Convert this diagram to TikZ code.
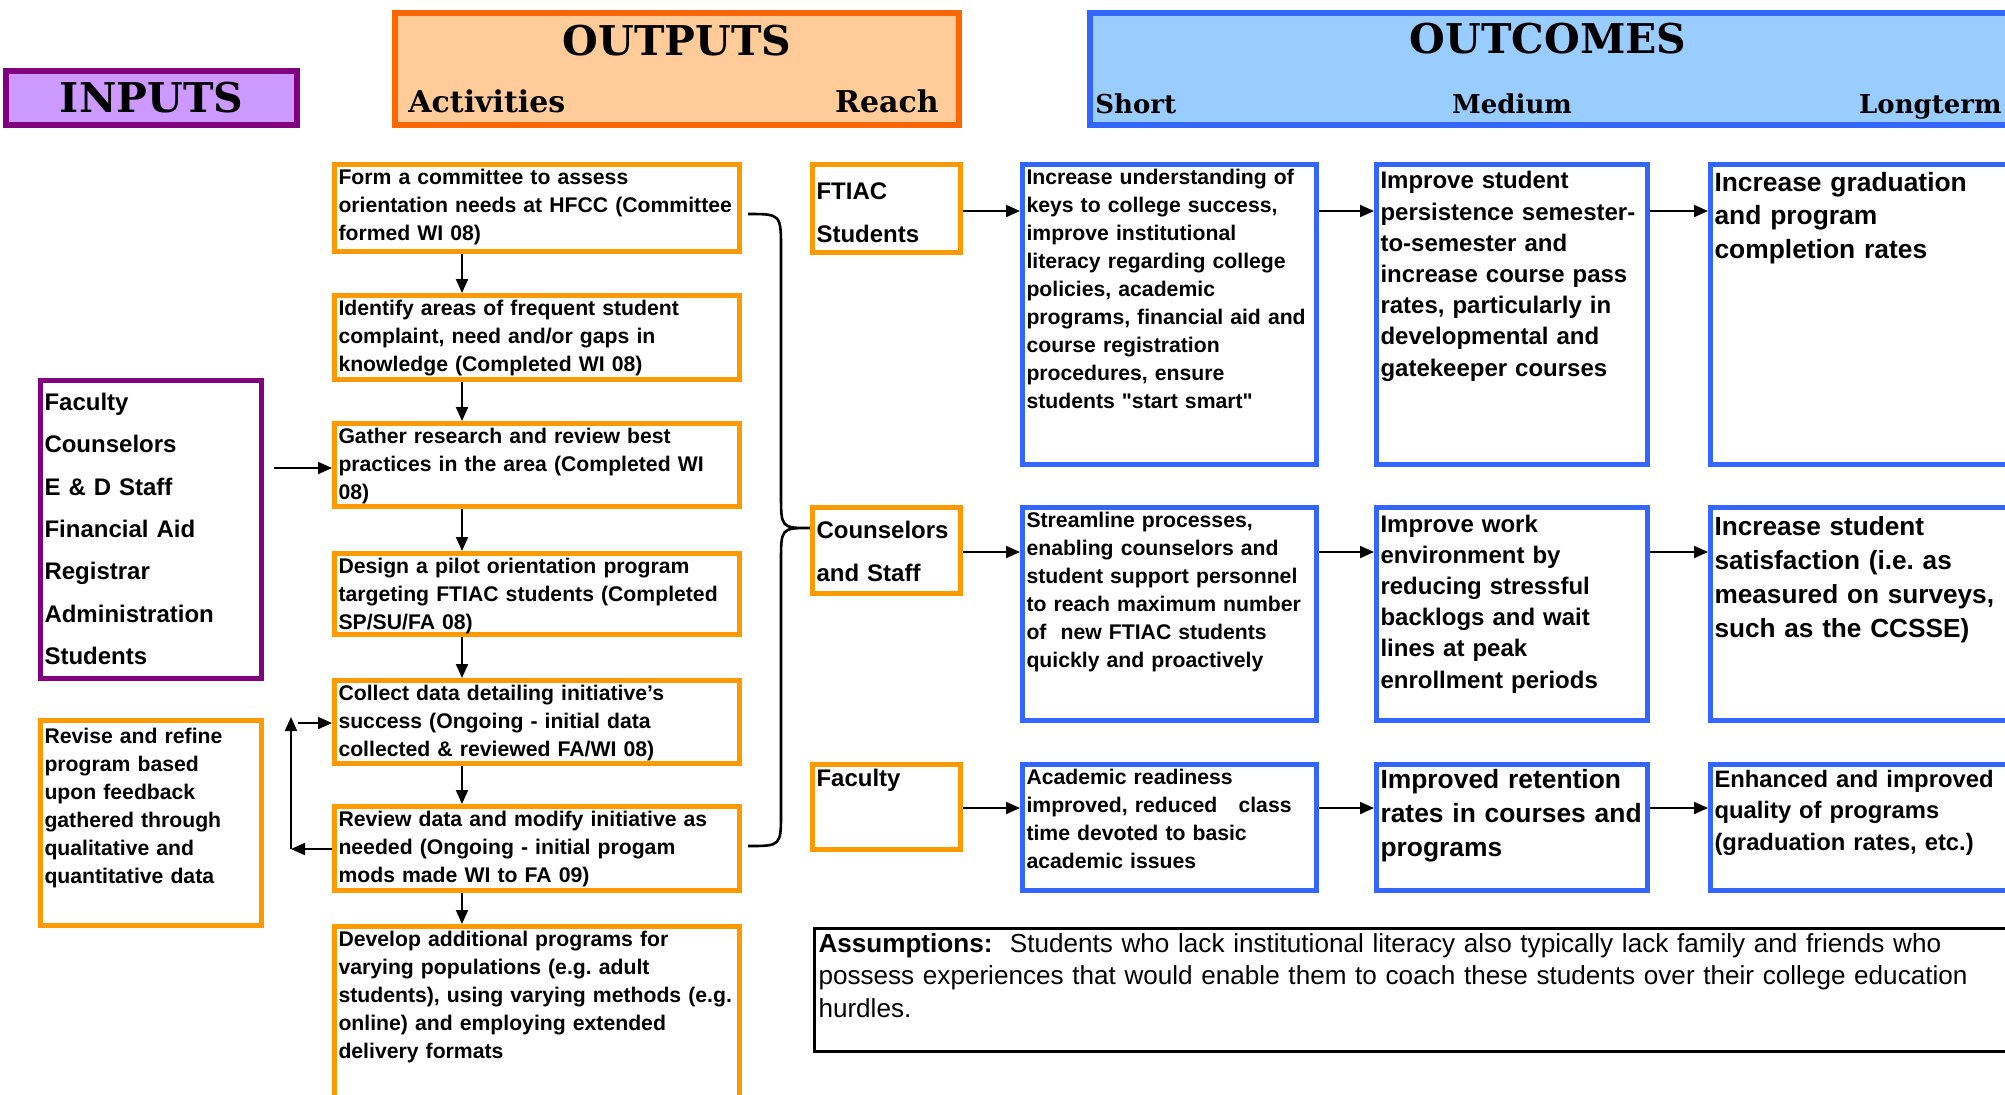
\documentclass[tikz,border=0pt]{standalone}
\usepackage{fontspec}
\setmainfont{Liberation Sans}[Ligatures=TeXOff]
\newfontfamily\headfont{DejaVu Serif}
\usetikzlibrary{arrows.meta}

\definecolor{inpurple}{RGB}{128,0,128}
\definecolor{inlilac}{RGB}{204,153,255}
\definecolor{outorange}{RGB}{255,102,0}
\definecolor{outpeach}{RGB}{255,204,153}
\definecolor{boxorange}{RGB}{255,153,0}
\definecolor{boxblue}{RGB}{51,102,255}
\definecolor{skyblue}{RGB}{153,204,255}

\newcommand{\boxtext}[3][0pt]{\parbox[t][#2][t]{\linewidth}{\hsize=\dimexpr\linewidth+20pt\relax\raggedright\frenchspacing\vspace*{#1}#3}}

\begin{document}
\begin{tikzpicture}[x=0.5pt, y=-0.5pt,
    arr/.style={-{Triangle[length=7pt,width=6pt]}, line width=1pt},
    hdr/.style={line width=3pt, anchor=north west, inner sep=0pt},
    headtitle/.style={anchor=base, inner sep=0pt, font=\headfont\bfseries\fontsize{20.5}{24}\selectfont},
    headsub/.style={inner sep=0pt, font=\headfont\bfseries\fontsize{15}{18}\selectfont},
    headterm/.style={inner sep=0pt, font=\headfont\bfseries\fontsize{13}{16}\selectfont},
    txtbox/.style={line width=2.5pt, anchor=north west, align=left, inner xsep=2pt, inner ysep=2.5pt},
    actbox/.style={txtbox, draw=boxorange, text width=198.5pt, font=\bfseries\fontsize{10.6}{14}\selectfont},
    sidebox/.style={txtbox, draw=boxorange, text width=106.5pt, font=\bfseries\fontsize{10.6}{14}\selectfont},
    listbox/.style={txtbox, draw=inpurple, text width=106.5pt, font=\bfseries\fontsize{12}{21.2}\selectfont},
    reachbox/.style={txtbox, draw=boxorange, text width=70pt, font=\bfseries\fontsize{12}{21.5}\selectfont},
    shortbox/.style={txtbox, draw=boxblue, text width=143pt, font=\bfseries\fontsize{10.6}{14}\selectfont},
    medbox/.style={txtbox, draw=boxblue, text width=131.5pt, font=\bfseries\fontsize{12}{15.6}\selectfont},
    longbox/.style={txtbox, draw=boxblue, text width=159.5pt, font=\bfseries\fontsize{13.2}{16.8}\selectfont},
    assumbox/.style={txtbox, line width=1.5pt, draw=black, text width=608pt, font=\fontsize{13.05}{16.2}\selectfont},
    brace/.style={line width=1.3pt}]

  \useasboundingbox (0,0) rectangle (2005,1094);
  \clip (0,0) rectangle (2005,1094);

  \node[hdr, draw=inpurple, fill=inlilac, minimum width=145.5pt, minimum height=27pt,
        font=\headfont\bfseries\fontsize{20.5}{24}\selectfont] (inputs) at (3,68) {INPUTS};
  \node[hdr, draw=outorange, fill=outpeach, minimum width=282pt, minimum height=56pt] (outputs) at (392,10) {};
  \node[hdr, draw=boxblue, fill=skyblue, minimum width=475pt, minimum height=56pt] (outcomes) at (1087,10) {};

  \node[headtitle] (outtitle) at (677,55) {OUTPUTS};
  \node[headsub, anchor=base west] (activities) at (408,112) {Activities};
  \node[headsub, anchor=base east] (reach) at (939,112) {Reach};
  \node[headtitle] (octitle) at (1548,53) {OUTCOMES};
  \node[headterm, anchor=base west] (short) at (1095,113) {Short};
  \node[headterm, anchor=base] (medium) at (1512,113) {Medium};
  \node[headterm, anchor=base east] (longterm) at (2002,113) {Longterm};

  \node[listbox] (resources) at (38,378) {\boxtext[3.65pt]{144pt}{Faculty\\Counselors\\E \& D Staff\\Financial Aid\\Registrar\\Administration\\Students}};
  \node[sidebox] (revise) at (38,718) {\boxtext[1.15pt]{97.5pt}{Revise and refine\\program based\\upon feedback\\gathered through\\qualitative and\\quantitative data}};

  \node[actbox] (a1) at (332,162) {\boxtext{38.5pt}{Form a committee to assess\\orientation needs at HFCC (Committee\\formed WI 08)}};
  \node[actbox] (a2) at (332,293) {\boxtext{37pt}{Identify areas of frequent student\\complaint, need and/or gaps in\\knowledge (Completed WI 08)}};
  \node[actbox] (a3) at (332,421) {\boxtext{36.5pt}{Gather research and review best\\practices in the area (Completed WI\\08)}};
  \node[actbox] (a4) at (332,551) {\boxtext{35.5pt}{Design a pilot orientation program\\targeting FTIAC students (Completed\\SP/SU/FA 08)}};
  \node[actbox] (a5) at (332,678) {\boxtext{36.5pt}{Collect data detailing initiative’s\\success (Ongoing - initial data\\collected \& reviewed FA/WI 08)}};
  \node[actbox] (a6) at (332,804) {\boxtext{37pt}{Review data and modify initiative as\\needed (Ongoing - initial progam\\mods made WI to FA 09)}};
  \node[actbox] (a7) at (332,924) {\boxtext{85.5pt}{Develop additional programs for\\varying populations (e.g. adult\\students), using varying methods (e.g.\\online) and employing extended\\delivery formats}};

  \node[reachbox] (ftiac) at (810,162) {\boxtext[6.65pt]{39pt}{FTIAC\\Students}};
  \node[reachbox] (counsel) at (810,505) {\boxtext[4.15pt]{38pt}{Counselors\\and Staff}};
  \node[reachbox] (faculty) at (810,762) {\boxtext{37.5pt}{Faculty}};

  \node[shortbox] (s1) at (1020,162) {\boxtext{145pt}{Increase understanding of\\keys to college success,\\improve institutional\\literacy regarding college\\policies, academic\\programs, financial aid and\\course registration\\procedures, ensure\\students "start smart"}};
  \node[shortbox] (s2) at (1020,505) {\boxtext{101.5pt}{Streamline processes,\\enabling counselors and\\student support personnel\\to reach maximum number\\of\ \ new FTIAC students\\quickly and proactively}};
  \node[shortbox] (s3) at (1020,762) {\boxtext{58pt}{Academic readiness\\improved, reduced\ \ \ class\\time devoted to basic\\academic issues}};

  \node[medbox] (m1) at (1374,162) {\boxtext[1pt]{145pt}{Improve student\\persistence semester-\\to-semester and\\increase course pass\\rates, particularly in\\developmental and\\gatekeeper courses}};
  \node[medbox] (m2) at (1374,505) {\boxtext[1.1pt]{101.5pt}{Improve work\\environment by\\reducing stressful\\backlogs and wait\\lines at peak\\enrollment periods}};
  \node[medbox, font=\bfseries\fontsize{13.2}{17}\selectfont] (m3) at (1374,762) {\boxtext{58pt}{Improved retention\\rates in courses and\\programs}};

  \node[longbox] (l1) at (1708,162) {\boxtext[1.3pt]{145pt}{Increase graduation\\and program\\completion rates}};
  \node[longbox, font=\bfseries\fontsize{13.1}{17.1}\selectfont] (l2) at (1708,505) {\boxtext[1.85pt]{101.5pt}{Increase student\\satisfaction (i.e. as\\measured on surveys,\\such as the CCSSE)}};
  \node[longbox, font=\bfseries\fontsize{11.9}{15.7}\selectfont] (l3) at (1708,762) {\boxtext[0.25pt]{58pt}{Enhanced and improved\\quality of programs\\(graduation rates, etc.)}};

  \node[assumbox] (assum) at (813,927) {\boxtext{56.5pt}{\textbf{Assumptions:}\ \ Students who lack institutional literacy also typically lack family and friends who\\possess experiences that would enable them to coach these students over their college education\\hurdles.}};

  \coordinate (actx) at (462,0);
  \coordinate (inrow) at (274,468);
  \coordinate (fbx) at (291,849);
  \coordinate (fbtop) at (291,717);
  \coordinate (fbin) at (298,723);
  \coordinate (rowa) at (0,211);
  \coordinate (rowb) at (0,552);
  \coordinate (rowc) at (0,808);
  \coordinate (bt) at (748,214);
  \coordinate (bb) at (748,846);
  \coordinate (cusp) at (810,528);

  \foreach \a/\b in {a1/a2, a2/a3, a3/a4, a4/a5, a5/a6, a6/a7}
    \draw[arr] (\a.south -| actx) -- (\b.north -| actx);

  \draw[arr] (inrow) -- (a3.west |- inrow);
  \draw[arr] (a6.west |- fbx) -- (fbx);
  \draw[arr] (fbx) -- (fbtop);
  \draw[arr] (fbin) -- (a5.west |- fbin);

  \foreach \a/\b/\r in {ftiac/s1/rowa, s1/m1/rowa, m1/l1/rowa,
                        counsel/s2/rowb, s2/m2/rowb, m2/l2/rowb,
                        faculty/s3/rowc, s3/m3/rowc, m3/l3/rowc}
    \draw[arr] (\a.east |- \r) -- (\b.west |- \r);

  \draw[brace] (bt) .. controls (781,214) .. (781,250) -- (781,494)
    .. controls (781,528) .. (cusp) .. controls (781,528) .. (781,562)
    -- (781,812) .. controls (781,846) .. (bb);
\end{tikzpicture}
\end{document}
